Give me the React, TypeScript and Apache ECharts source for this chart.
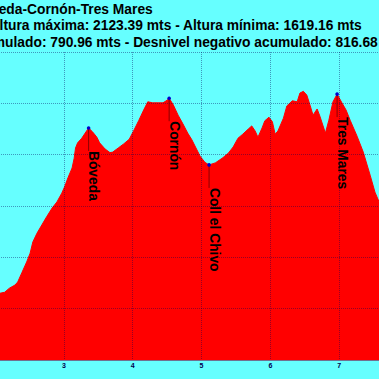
import React, { useEffect, useRef } from "react";
import * as echarts from "echarts";

// Profile distance (km) and elevation (m)
const kmData = [
  2.0, 2.07, 2.14, 2.21, 2.29, 2.33, 2.39, 2.46, 2.51, 2.55,
  2.61, 2.68, 2.75, 2.83, 2.9, 2.97, 3.01, 3.06, 3.12, 3.15,
  3.17, 3.2, 3.26, 3.31, 3.36, 3.42, 3.48, 3.52, 3.6, 3.67,
  3.71, 3.79, 3.87, 3.95, 4.02, 4.09, 4.16, 4.22, 4.29, 4.37,
  4.44, 4.5, 4.53, 4.59, 4.66, 4.73, 4.8, 4.86, 4.92, 4.98,
  5.05, 5.11, 5.2, 5.3, 5.39, 5.46, 5.53, 5.6, 5.68, 5.73,
  5.78, 5.82, 5.88, 5.92, 5.98, 6.03, 6.07, 6.11, 6.19, 6.24,
  6.32, 6.39, 6.43, 6.48, 6.53, 6.58, 6.62, 6.68, 6.72, 6.8,
  6.85, 6.91, 6.97, 7.04, 7.1, 7.16, 7.26, 7.35, 7.45, 7.52,
  7.58, 7.66,
];
const elevData = [
  1728, 1730, 1732, 1740, 1746, 1752, 1770, 1791, 1808, 1830,
  1847, 1863, 1879, 1896, 1908, 1925, 1937, 1955, 1974, 1993,
  2013, 2023, 2032, 2042, 2052, 2044, 2034, 2023, 2011, 2004,
  2005, 2013, 2021, 2030, 2048, 2067, 2087, 2103, 2101, 2101,
  2101, 2106, 2110, 2097, 2077, 2060, 2042, 2029, 2013, 1997,
  1985, 1980, 1984, 1993, 2003, 2015, 2032, 2040, 2050, 2056,
  2046, 2034, 2052, 2066, 2073, 2064, 2040, 2046, 2071, 2095,
  2105, 2103, 2120, 2123.39, 2116, 2095, 2077, 2089, 2075, 2042,
  2067, 2103, 2118, 2101, 2087, 2067, 2036, 2005, 1960, 1927,
  1908, 1892,
];

// Waypoints
const wpNames = ["Bóveda", "Cornón", "Coll el Chivo", "Tres Mares"];
const wpKm = [3.36, 4.53, 5.11, 6.97];
const wpElev = [2052, 2110, 1980, 2118];

// Titles
const titleLines = [
  "Bóveda-Cornón-Tres Mares",
  "Altura máxima: 2123.39 mts - Altura mínima: 1619.16 mts",
  "Desnivel positivo acumulado: 790.96 mts - Desnivel negativo acumulado: 816.68 mts",
];

const FONT_FAMILY = 'Arial, "Liberation Sans", sans-serif';
const FONT_SIZE = 13.8;
const OFFSET_X = 4.75; // chart div is shifted left by this amount
const GRID_COLOR = "rgba(0,0,90,0.4)";

function measure(text: string): number {
  const c = document.createElement("canvas").getContext("2d");
  if (!c) return 0;
  c.font = `bold ${FONT_SIZE}px ${FONT_FAMILY}`;
  return c.measureText(text).width;
}

export default function App() {
  const ref = useRef<HTMLDivElement>(null);

  useEffect(() => {
    if (!ref.current) return;
    const chart = echarts.init(ref.current, undefined, { renderer: "svg" });
    const textStyleBase = {
      fontFamily: FONT_FAMILY,
      fontSize: FONT_SIZE,
      fontWeight: "bold",
      fill: "#000",
    };
    const line3Right = 378 + measure(" mts") + OFFSET_X;

    chart.setOption({
      animation: false,
      backgroundColor: "#66ffff",
      grid: { left: 0, right: 0, top: 52, bottom: 19, containLabel: false, outerBoundsMode: "none" },
      graphic: [
        {
          type: "text",
          x: 153 + OFFSET_X,
          y: 9.3,
          style: { ...textStyleBase, text: titleLines[0], textAlign: "right", align: "right", textVerticalAlign: "middle", verticalAlign: "middle" },
        },
        {
          type: "text",
          x: 362 + OFFSET_X,
          y: 25.7,
          style: { ...textStyleBase, text: titleLines[1], textAlign: "right", align: "right", textVerticalAlign: "middle", verticalAlign: "middle" },
        },
        {
          type: "text",
          x: line3Right,
          y: 42,
          style: { ...textStyleBase, text: titleLines[2], textAlign: "right", align: "right", textVerticalAlign: "middle", verticalAlign: "middle" },
        },
      ],
      xAxis: {
        type: "value",
        min: 2,
        max: 8,
        interval: 1,
        z: 3,
        axisLine: { show: true, lineStyle: { color: "#707090", width: 1 } },
        axisTick: { show: false },
        axisLabel: { fontSize: 7, fontWeight: "bold", color: "#00004d", margin: 2, fontFamily: FONT_FAMILY },
        splitLine: { show: true, lineStyle: { color: GRID_COLOR, type: "dotted", width: 1 } },
      },
      yAxis: {
        type: "value",
        min: 1600,
        max: 2200,
        interval: 100,
        z: 3,
        axisLine: { show: false },
        axisTick: { show: false },
        axisLabel: { show: false },
        splitLine: { show: true, lineStyle: { color: GRID_COLOR, type: "dotted", width: 1 } },
      },
      series: [
        {
          type: "line",
          data: kmData.map((k, i) => [k, elevData[i]]),
          showSymbol: false,
          symbol: "none",
          lineStyle: { color: "#ff0000", width: 1 },
          areaStyle: { color: "#ff0000", opacity: 1 },
          z: 2,
        },
        {
          type: "custom",
          z: 5,
          data: wpKm.map((k, i) => [k, wpElev[i]]),
          encode: { x: 0, y: 1 },
          renderItem: (params: any, api: any) => {
            const p = api.coord([api.value(0), api.value(1)]);
            const name = wpNames[params.dataIndex];
            return {
              type: "group",
              children: [
                {
                  type: "line",
                  shape: { x1: p[0], y1: p[1], x2: p[0], y2: p[1] + 23 },
                  style: { stroke: "#8b0000", lineWidth: 1 },
                },
                {
                  type: "circle",
                  shape: { cx: p[0], cy: p[1], r: 1.8 },
                  style: { fill: "#0000cc" },
                },
                {
                  type: "text",
                  x: p[0] + 5,
                  y: p[1] + 23,
                  rotation: -Math.PI / 2,
                  style: {
                    text: name,
                    fontFamily: FONT_FAMILY,
                    fontSize: FONT_SIZE,
                    fontWeight: "bold",
                    fill: "#000",
                    textAlign: "left",
                    align: "left",
                    textVerticalAlign: "middle",
                    verticalAlign: "middle",
                  },
                },
              ],
            };
          },
        },
      ],
    });
    return () => chart.dispose();
  }, []);

  return (
    <div
      style={{
        position: "fixed",
        left: 0,
        top: 0,
        width: 379,
        height: 379,
        overflow: "hidden",
        background: "#66ffff",
      }}
    >
      <div
        ref={ref}
        style={{ position: "absolute", left: -OFFSET_X, top: 0, width: 412.5, height: 379 }}
      />
    </div>
  );
}
